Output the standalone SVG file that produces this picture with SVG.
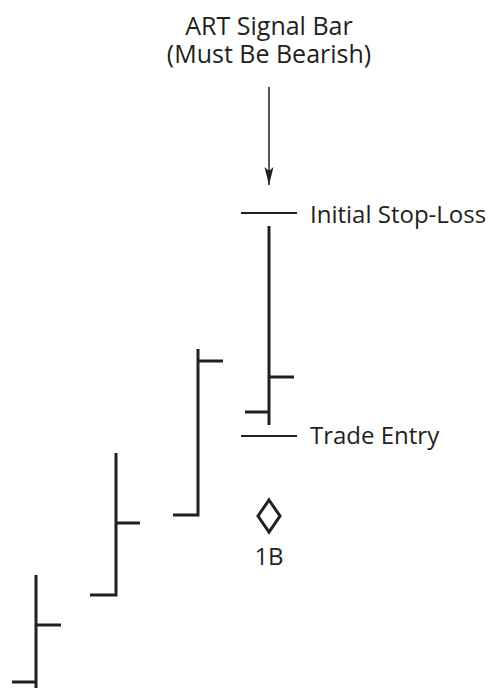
<svg xmlns="http://www.w3.org/2000/svg" width="498" height="688" viewBox="0 0 498 688">
<defs>
<style>
text{font-family:"Open Sans","DejaVu Sans",sans-serif;font-size:24px;fill:#231f20}
.ttl{font-size:25px}
.bar{stroke:#231f20;stroke-width:3;fill:none;stroke-linecap:butt}
.lvl{stroke:#231f20;stroke-width:2;fill:none}
</style>
<marker id="ah" markerWidth="20" markerHeight="10" refX="18" refY="4.5" orient="auto" markerUnits="userSpaceOnUse" viewBox="0 0 20 9">
<path d="M0,0 L18,4.5 L0,9 L4,4.5 Z" fill="#231f20"/>
</marker>
</defs>
<rect width="498" height="688" fill="#fff"/>
<g id="title">
<text class="ttl" x="269" y="35" text-anchor="middle">ART Signal Bar</text>
<text class="ttl" x="269" y="63" text-anchor="middle">(Must Be Bearish)</text>
</g>
<g id="connectors">
<line x1="269" y1="87" x2="269" y2="185" stroke="#231f20" stroke-width="1.5" marker-end="url(#ah)"/>
</g>
<g id="bar1"><path class="bar" d="M36,575 V688 M12,682 H36 M36,625 H61"/></g>
<g id="bar2"><path class="bar" d="M116,453 V596 M90,595 H117.5 M116,523 H140"/></g>
<g id="bar3"><path class="bar" d="M198,349 V516 M173,515 H199.5 M198,361 H223"/></g>
<g id="bar4"><path class="bar" d="M269,226 V425 M269,377 H294 M245,412 H269"/></g>
<g id="stoploss"><line class="lvl" x1="241" y1="213" x2="297" y2="213"/><text x="310" y="223">Initial Stop-Loss</text></g>
<g id="entry"><line class="lvl" x1="241" y1="436" x2="297" y2="436"/><text x="310" y="444">Trade Entry</text></g>
<g id="marker1B"><path d="M269,500 L280,516 L269,532 L258,516 Z" fill="none" stroke="#231f20" stroke-width="3"/><text x="269" y="565" text-anchor="middle">1B</text></g>
</svg>
